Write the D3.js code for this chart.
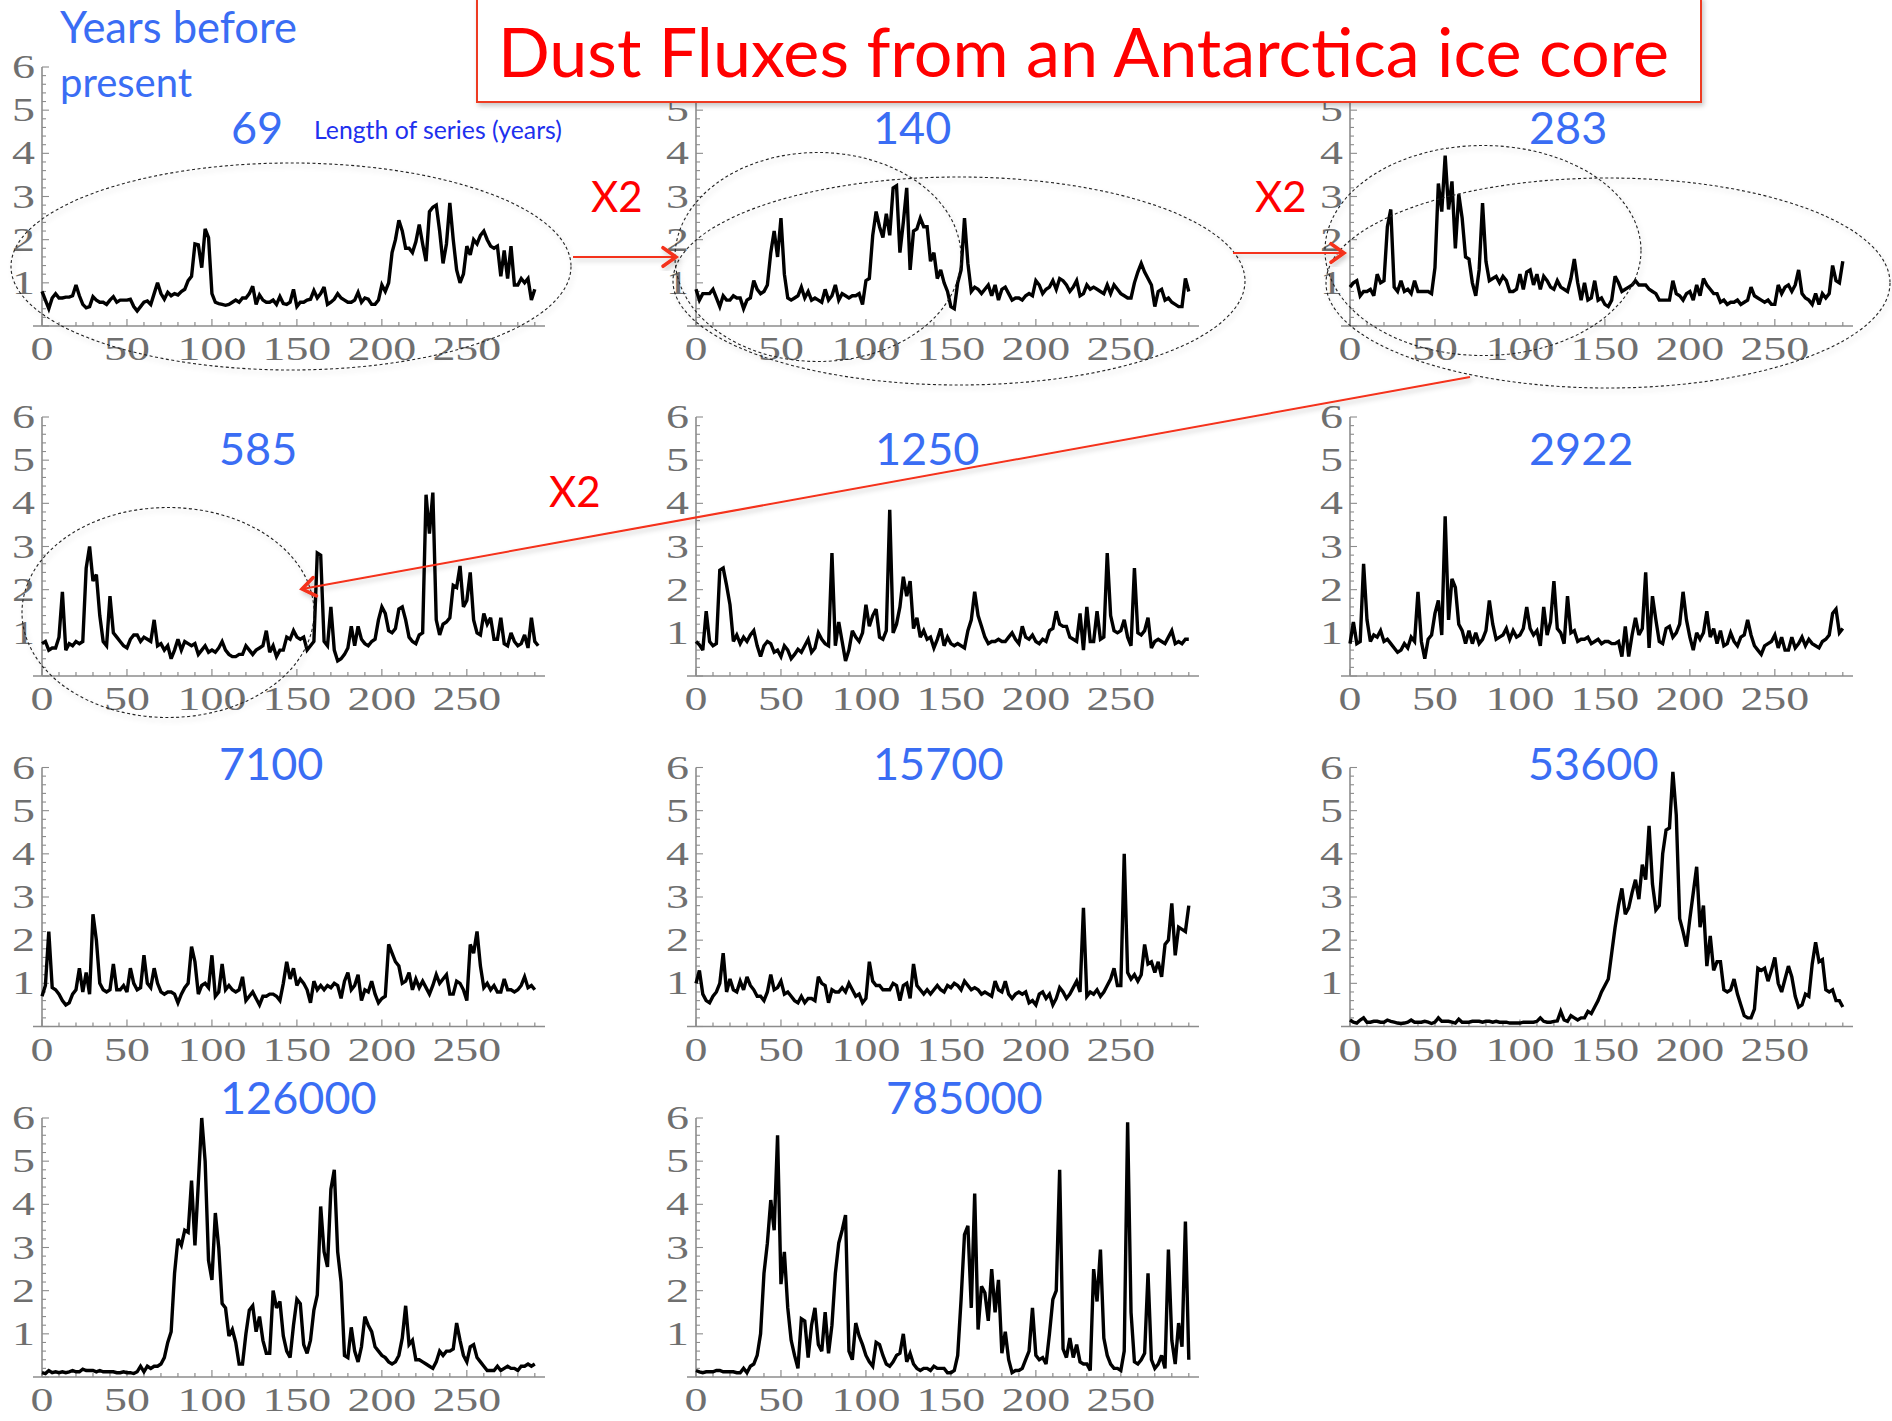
<!DOCTYPE html>
<html>
<head>
<meta charset="utf-8">
<script src="https://cdn.jsdelivr.net/npm/d3@7"></script>
<style>
  html, body { margin: 0; padding: 0; background: #ffffff; }
  svg { display: block; }
</style>
</head>
<body>
<svg id="chart" width="1892" height="1421"></svg>
<script>
// Dust flux series, one value every 2 years along each 290-year window.
const seriesLabels = ["69", "140", "283", "585", "1250", "2922", "7100", "15700", "53600", "126000", "785000"];
const yearStep = 2;

const flux69 = [0.8,0.6,0.4,0.65,0.75,0.65,0.65,0.67,0.67,0.7,0.95,0.7,0.5,0.42,0.45,0.68,0.6,0.55,0.55,0.5,0.6,0.68,0.55,0.6,0.6,0.6,0.62,0.45,0.35,0.45,0.55,0.58,0.5,0.75,1.0,0.75,0.62,0.78,0.7,0.75,0.72,0.8,0.85,1.05,1.15,1.9,1.88,1.35,2.25,2.05,0.75,0.55,0.52,0.5,0.48,0.5,0.55,0.6,0.55,0.65,0.65,0.75,0.92,0.5,0.72,0.6,0.55,0.55,0.6,0.5,0.68,0.52,0.5,0.55,0.85,0.45,0.55,0.55,0.6,0.62,0.82,0.65,0.75,0.9,0.5,0.55,0.62,0.75,0.65,0.6,0.55,0.55,0.6,0.78,0.55,0.65,0.62,0.5,0.5,0.6,0.95,0.8,1.0,1.7,2.0,2.45,2.2,1.8,1.8,1.7,1.95,2.35,1.9,1.5,2.65,2.75,2.8,2.2,1.45,1.9,2.85,2.0,1.3,1.0,1.2,1.85,1.65,2.0,1.9,2.1,2.2,2.0,1.85,1.8,1.85,1.15,1.75,1.1,1.85,0.95,0.95,1.1,1.0,1.1,0.6,0.85];

const flux140 = [0.85,0.6,0.75,0.75,0.75,0.85,0.65,0.45,0.7,0.6,0.6,0.7,0.65,0.65,0.4,0.6,0.65,1.05,0.85,0.75,0.8,0.95,1.7,2.2,1.6,2.5,1.2,0.65,0.6,0.65,0.7,0.9,0.65,0.8,0.6,0.65,0.6,0.55,0.85,0.6,0.7,0.95,0.6,0.75,0.7,0.65,0.7,0.7,0.75,0.5,1.05,1.1,2.1,2.65,2.3,2.05,2.6,2.1,3.2,3.25,1.7,2.4,3.2,1.3,2.2,2.25,2.5,2.3,2.3,1.5,1.7,1.1,1.3,1.0,0.8,0.45,0.4,1.0,1.3,2.5,1.45,0.8,0.9,0.85,0.75,0.85,0.95,0.7,0.95,0.6,0.85,0.9,0.75,0.6,0.65,0.65,0.6,0.7,0.75,0.7,1.05,0.95,0.75,0.85,0.9,1.05,0.85,1.1,1.05,0.95,0.8,0.9,1.05,0.7,0.75,0.95,0.85,0.9,0.85,0.8,0.75,0.95,0.75,0.95,0.85,0.75,0.7,0.65,0.65,1.0,1.25,1.45,1.25,1.1,0.95,0.45,0.8,0.85,0.6,0.65,0.55,0.5,0.45,0.45,1.1,0.8];

const flux283 = [0.9,1.0,1.05,0.7,0.8,0.8,0.85,0.7,1.2,1.0,1.05,2.3,2.7,0.9,0.8,1.05,0.8,0.85,0.75,1.05,0.8,0.8,0.8,0.8,0.75,1.35,3.3,2.65,3.95,2.7,3.35,1.8,3.05,2.5,1.6,1.55,1.0,0.7,1.3,2.85,1.5,1.05,1.1,1.15,1.0,1.15,1.05,0.8,0.8,0.85,1.2,0.85,1.25,1.3,0.95,1.2,0.85,1.15,1.05,0.9,0.85,1.05,0.9,0.85,0.8,1.1,1.55,1.0,0.6,1.0,0.6,0.65,1.05,0.6,0.65,0.5,0.45,0.6,1.15,1.0,0.8,0.85,0.9,0.95,1.05,0.95,0.95,0.95,0.85,0.8,0.75,0.6,0.6,0.6,0.6,1.05,0.75,0.7,0.6,0.75,0.8,0.6,0.95,0.7,1.1,0.95,0.85,0.75,0.75,0.55,0.6,0.5,0.55,0.55,0.6,0.5,0.55,0.6,0.9,0.7,0.65,0.6,0.55,0.6,0.5,0.5,0.95,0.75,0.9,0.95,0.8,0.95,1.3,0.75,0.65,0.6,0.5,0.75,0.5,0.75,0.65,0.75,1.4,1.05,1.0,1.5];

const flux585 = [0.75,0.8,0.6,0.65,0.65,0.9,1.95,0.6,0.75,0.7,0.8,0.75,0.8,2.5,3.0,2.2,2.35,1.4,0.8,0.7,1.85,1.0,0.9,0.8,0.7,0.65,0.85,0.95,0.95,0.8,0.9,0.85,0.8,1.3,0.7,0.75,0.6,0.7,0.4,0.6,0.85,0.6,0.8,0.75,0.7,0.75,0.5,0.6,0.7,0.55,0.6,0.55,0.65,0.8,0.6,0.5,0.45,0.45,0.5,0.5,0.7,0.6,0.5,0.6,0.65,0.7,1.05,0.55,0.7,0.45,0.6,0.6,0.9,0.85,1.05,0.9,0.85,0.9,0.6,0.7,0.8,2.85,2.8,0.8,0.7,1.6,0.6,0.35,0.4,0.5,0.65,1.15,0.7,1.15,0.85,0.75,0.7,0.8,0.85,1.3,1.6,1.45,1.05,1.0,1.1,1.55,1.6,1.3,0.9,0.8,0.75,0.95,1.0,4.2,3.3,4.25,1.3,0.95,1.2,1.25,1.35,2.1,2.05,2.55,1.6,1.75,2.4,1.3,1.0,0.95,1.45,1.2,1.35,0.85,0.85,1.35,0.75,0.7,1.0,0.8,0.7,0.75,0.95,0.65,1.35,0.8,0.7];

const flux1250 = [0.8,0.72,0.6,1.5,0.8,0.7,0.75,2.45,2.5,2.1,1.65,0.8,0.95,0.75,0.9,0.8,0.95,1.05,0.7,0.45,0.7,0.8,0.75,0.55,0.6,0.45,0.7,0.6,0.4,0.5,0.62,0.55,0.7,0.85,0.55,0.65,1.0,0.85,0.75,0.7,2.85,0.7,1.25,0.8,0.35,0.6,1.05,0.9,0.8,1.0,1.65,1.15,1.4,1.55,0.9,0.85,1.05,3.85,1.0,1.2,1.6,2.3,1.85,2.2,1.1,1.35,0.9,1.05,0.85,0.9,0.65,0.85,1.1,0.7,0.9,0.75,0.7,0.75,0.7,0.65,1.05,1.3,1.95,1.4,1.15,0.9,0.75,0.8,0.8,0.85,0.8,0.8,0.9,1.0,0.85,0.75,1.15,0.9,0.85,0.95,0.8,0.75,0.85,0.8,1.05,1.1,1.5,1.2,1.15,1.15,0.9,0.85,0.8,1.45,0.6,1.6,0.8,0.8,1.5,0.85,0.9,2.85,1.4,1.05,1.0,1.05,1.3,0.9,0.7,2.5,1.0,0.95,1.05,1.35,0.65,0.8,0.85,0.8,0.75,0.9,1.05,0.75,0.8,0.75,0.85,0.85];

const flux2922 = [0.75,1.25,0.75,0.8,2.6,1.3,0.8,0.95,0.9,1.05,0.8,0.85,0.75,0.65,0.55,0.6,0.75,0.65,0.9,0.8,1.95,0.8,0.4,0.85,0.95,1.45,1.75,0.95,3.7,1.3,2.25,2.05,1.2,1.05,0.75,1.05,0.75,1.0,0.75,0.85,1.05,1.75,1.2,0.85,0.9,0.95,1.1,0.85,1.05,0.9,0.95,1.1,1.6,1.1,0.95,1.05,0.7,1.6,0.95,1.25,2.2,1.1,1.0,0.75,1.85,1.0,1.05,0.8,0.85,0.85,0.9,0.75,0.8,0.85,0.75,0.8,0.8,0.75,0.75,0.8,0.45,1.15,0.45,0.95,1.35,0.95,1.1,2.4,0.65,1.85,1.3,0.8,0.75,1.1,1.15,0.9,1.0,1.2,1.95,1.3,0.9,0.6,1.0,0.85,1.0,1.5,0.9,1.1,0.75,1.05,0.7,0.75,1.0,0.8,0.7,0.9,0.95,1.3,0.95,0.7,0.6,0.5,0.7,0.75,0.8,0.95,0.65,0.9,0.6,0.6,0.9,0.65,0.75,0.9,0.7,0.85,0.75,0.7,0.65,0.8,0.85,0.95,1.45,1.55,1.0,1.1];

const flux7100 = [0.7,0.95,2.2,0.9,0.85,0.75,0.6,0.5,0.55,0.75,0.85,1.35,0.8,1.25,0.75,2.6,2.0,1.0,0.85,0.8,0.85,1.45,0.85,0.85,0.95,0.8,1.35,1.0,0.85,0.9,1.65,1.0,0.9,1.35,1.0,0.8,0.75,0.8,0.8,0.75,0.55,0.75,0.9,1.0,1.85,1.5,0.75,0.95,1.0,0.9,1.65,0.7,0.8,1.45,0.85,0.95,0.85,0.8,0.85,1.15,0.6,0.7,0.8,0.65,0.5,0.7,0.7,0.75,0.75,0.7,0.6,1.0,1.5,1.1,1.35,0.95,1.1,1.0,0.85,0.55,1.05,0.85,0.95,0.85,0.95,0.9,1.0,0.95,0.65,1.05,1.25,0.85,0.95,1.2,0.6,0.85,0.8,1.05,0.75,0.55,0.65,0.7,1.9,1.7,1.5,1.4,1.0,1.05,1.25,0.85,1.1,0.9,1.05,0.9,0.75,0.95,1.2,1.0,1.1,1.2,0.75,0.75,1.05,1.0,0.85,0.6,1.9,1.7,2.2,1.4,0.9,1.0,0.85,0.95,0.8,0.8,1.1,0.85,0.85,0.8,0.85,0.95,1.15,0.9,0.95,0.85];

const flux15700 = [1.0,1.3,0.75,0.6,0.55,0.7,0.8,1.0,1.7,0.8,1.1,0.85,0.8,1.05,0.85,1.15,0.95,0.85,0.7,0.7,0.6,0.8,1.2,0.85,0.9,1.05,0.75,0.8,0.7,0.6,0.55,0.7,0.55,0.65,0.65,0.6,1.15,1.0,0.95,0.55,0.85,0.8,0.8,0.9,0.8,1.0,0.85,0.7,0.75,0.55,0.65,1.5,1.05,0.95,0.95,0.85,0.85,0.85,1.0,0.95,0.6,0.95,1.0,0.65,1.45,0.95,0.85,0.75,0.85,0.75,0.85,0.95,0.85,0.8,0.95,0.9,1.0,0.95,0.85,1.05,0.95,0.85,0.9,0.85,0.75,0.8,0.75,0.7,1.05,0.85,0.8,1.05,0.75,0.65,0.75,0.8,0.75,0.8,0.55,0.6,0.5,0.75,0.8,0.65,0.75,0.5,0.65,0.9,0.8,0.65,0.75,0.9,1.05,0.8,2.75,0.7,0.8,0.75,0.85,0.7,0.8,0.95,1.1,1.35,0.95,0.95,4.0,1.25,1.1,1.2,1.05,1.2,1.9,1.45,1.5,1.25,1.5,1.15,1.9,2.0,2.85,1.65,2.3,2.25,2.2,2.8];

const flux53600 = [0.15,0.1,0.08,0.15,0.2,0.1,0.1,0.12,0.12,0.1,0.1,0.15,0.12,0.1,0.08,0.07,0.08,0.1,0.15,0.1,0.1,0.1,0.12,0.1,0.07,0.1,0.2,0.12,0.12,0.12,0.1,0.08,0.17,0.1,0.1,0.1,0.12,0.12,0.12,0.1,0.12,0.12,0.1,0.12,0.1,0.1,0.1,0.08,0.08,0.08,0.08,0.1,0.1,0.1,0.1,0.12,0.2,0.12,0.1,0.1,0.12,0.13,0.35,0.15,0.12,0.25,0.2,0.15,0.2,0.2,0.35,0.3,0.45,0.6,0.8,0.95,1.1,1.7,2.3,2.8,3.2,2.6,2.75,3.1,3.4,2.95,3.75,3.4,4.65,3.3,2.7,2.8,4.0,4.55,4.6,5.9,4.9,2.5,2.2,1.85,2.5,3.1,3.7,2.3,2.8,1.4,2.1,1.3,1.5,1.5,0.85,0.8,0.85,1.1,0.75,0.5,0.25,0.2,0.2,0.4,1.35,1.3,1.35,1.05,1.3,1.6,1.0,0.8,1.1,1.4,1.15,0.7,0.45,0.5,0.75,0.7,1.45,1.95,1.5,1.55,0.85,0.8,0.85,0.6,0.6,0.45];

const flux126000 = [0.1,0.08,0.15,0.1,0.12,0.1,0.12,0.1,0.12,0.15,0.12,0.12,0.18,0.15,0.15,0.15,0.12,0.15,0.12,0.12,0.12,0.12,0.1,0.1,0.12,0.1,0.1,0.08,0.12,0.25,0.12,0.25,0.2,0.25,0.25,0.3,0.45,0.8,1.05,2.4,3.2,3.05,3.4,3.35,4.55,3.05,4.5,6.0,5.0,2.7,2.25,3.8,3.0,1.7,1.6,0.95,1.1,0.8,0.3,0.3,1.0,1.55,1.65,1.05,1.4,0.85,0.55,0.55,2.0,1.6,1.75,0.95,0.6,0.45,1.2,1.8,1.7,0.75,0.55,0.85,1.55,1.9,3.95,2.9,2.55,4.35,4.8,2.9,2.2,0.5,0.45,1.15,0.6,0.35,0.7,1.4,1.2,1.05,0.7,0.6,0.5,0.45,0.35,0.3,0.35,0.5,0.9,1.65,0.75,0.85,0.4,0.4,0.35,0.3,0.25,0.2,0.35,0.6,0.5,0.6,0.6,0.65,1.25,0.85,0.5,0.35,0.7,0.75,0.45,0.35,0.25,0.15,0.15,0.15,0.25,0.15,0.2,0.25,0.2,0.2,0.15,0.25,0.25,0.3,0.25,0.3];

const flux785000 = [0.15,0.12,0.1,0.12,0.12,0.12,0.15,0.15,0.12,0.12,0.12,0.12,0.1,0.1,0.2,0.1,0.25,0.3,0.5,1.0,2.4,3.1,4.1,3.4,5.6,2.15,2.9,1.6,0.85,0.5,0.2,1.35,1.3,0.45,1.2,1.6,0.75,0.6,1.5,0.55,1.2,2.4,3.1,3.4,3.75,0.6,0.4,1.25,0.95,0.75,0.5,0.35,0.25,0.8,0.75,0.5,0.3,0.25,0.35,0.5,0.55,1.0,0.35,0.55,0.3,0.2,0.15,0.2,0.2,0.15,0.25,0.2,0.2,0.2,0.1,0.1,0.15,0.5,1.8,3.3,3.5,1.6,4.25,1.1,2.1,1.95,1.3,2.5,1.5,2.25,0.55,1.05,0.4,0.1,0.15,0.15,0.2,0.4,0.6,1.6,0.5,0.4,0.45,0.3,1.0,1.8,2.0,4.8,0.65,0.45,0.9,0.45,0.75,0.35,0.3,0.3,0.15,2.5,1.75,2.95,0.9,0.5,0.3,0.2,0.2,0.15,0.6,5.9,1.5,0.35,0.3,0.4,0.55,2.4,0.4,0.2,0.3,0.5,0.2,2.95,0.85,0.3,1.25,0.7,3.6,0.4];

const xTickValues = [0, 50, 100, 150, 200, 250];
const yTickValues = [1, 2, 3, 4, 5, 6];

const panelSeries = [flux69, flux140, flux283, flux585, flux1250, flux2922,
                     flux7100, flux15700, flux53600, flux126000, flux785000];

// ---- layout ----
const colX = [42, 696, 1350];          // y-axis position of each column
const rowY = [326, 676, 1026.5, 1377]; // x-axis position of each row
const plotW = 503, plotH = 259;
const labelX = [231, 873, 1529, 219, 875, 1529, 219, 873, 1528, 220, 886];
const labelBase = [144, 465, 780, 1114];
const titleBox = {x: 477, y: -3, w: 1224, h: 105};

const axisGrey = "#8c8c8c";
const tickGrey = "#6f6f6f";
const numBlue = "#3a6df4";
const red = "#ff0000";
const arrowRed = "#f4301a";

const svg = d3.select("#chart");

const defs = svg.append("defs");
const soft = defs.append("filter").attr("id", "soft")
  .attr("x", "-10%").attr("y", "-10%").attr("width", "120%").attr("height", "130%");
soft.append("feDropShadow").attr("dx", 2).attr("dy", 3).attr("stdDeviation", 2.5)
  .attr("flood-color", "#000").attr("flood-opacity", 0.22);

const panelsG = svg.append("g");

// labels that fall under the title box are not drawn
function underTitle(px, py) {
  return px > titleBox.x && px < titleBox.x + titleBox.w && py < titleBox.y + titleBox.h - 20;
}

panelSeries.forEach((vals, k) => {
  const col = k % 3, row = Math.floor(k / 3);
  const x0 = colX[col], y0 = rowY[row];
  const x = d3.scaleLinear().domain([0, 296]).range([x0, x0 + plotW]);
  const y = d3.scaleLinear().domain([0, 6]).range([y0, y0 - plotH]);
  const g = panelsG.append("g");

  // x axis: line, minor and major ticks pointing into the plot
  g.append("line").attr("x1", x0 - 9).attr("x2", x0 + plotW)
    .attr("y1", y0).attr("y2", y0).attr("stroke", axisGrey).attr("stroke-width", 1.6);
  const xMinor = d3.range(0, 291, 10);
  g.selectAll(null).data(xMinor).join("line")
    .attr("x1", d => x(d)).attr("x2", d => x(d))
    .attr("y1", y0).attr("y2", d => y0 - (d % 50 === 0 ? 7 : 4))
    .attr("stroke", axisGrey).attr("stroke-width", 1.2);

  // y axis
  g.append("line").attr("x1", x0).attr("x2", x0)
    .attr("y1", y0).attr("y2", y(6)).attr("stroke", axisGrey).attr("stroke-width", 1.6);
  const yMinor = d3.range(0, 30.5, 1).map(v => v / 5);
  g.selectAll(null).data(yMinor).join("line")
    .attr("x1", x0).attr("x2", d => x0 + (Math.abs(d - Math.round(d)) < 1e-6 ? 7 : 4))
    .attr("y1", d => y(d)).attr("y2", d => y(d))
    .attr("stroke", axisGrey).attr("stroke-width", 1.1);

  // tick labels (serif, stretched horizontally)
  g.selectAll(null).data(xTickValues).join("text")
    .attr("transform", d => `translate(${x(d)},${y0 + 34}) scale(1.35,1)`)
    .attr("text-anchor", "middle")
    .attr("font-family", "'Liberation Serif', 'DejaVu Serif', serif")
    .attr("font-size", 34).attr("fill", tickGrey)
    .text(d => d);
  g.selectAll(null).data(yTickValues.filter(d => !underTitle(x0 - 10, y(d))))
    .join("text")
    .attr("transform", d => `translate(${x0 - 7},${y(d) + 11}) scale(1.35,1)`)
    .attr("text-anchor", "end")
    .attr("font-family", "'Liberation Serif', 'DejaVu Serif', serif")
    .attr("font-size", 34).attr("fill", tickGrey)
    .text(d => d);

  // series line
  const line = d3.line()
    .x((d, i) => x(i * yearStep))
    .y(d => y(d));
  g.append("path").datum(vals)
    .attr("d", line)
    .attr("fill", "none").attr("stroke", "#000").attr("stroke-width", 3.4)
    .attr("stroke-linejoin", "miter").attr("stroke-miterlimit", 3);

  // series length label
  g.append("text")
    .attr("x", labelX[k]).attr("y", labelBase[row])
    .attr("font-family", "Lato, 'Open Sans', sans-serif")
    .attr("font-size", 45).attr("fill", numBlue)
    .text(seriesLabels[k]);
});

// ---- annotations ----
const ann = svg.append("g");

// dashed ellipses
const ellipses = [
  {cx: 291, cy: 266.5, rx: 280, ry: 103.5},
  {cx: 818, cy: 257, rx: 143, ry: 104.5},
  {cx: 959, cy: 281, rx: 286, ry: 104},
  {cx: 1483, cy: 250.5, rx: 158, ry: 105},
  {cx: 1608, cy: 283, rx: 282, ry: 105},
  {cx: 168, cy: 612.5, rx: 146, ry: 105}
];
ann.selectAll(null).data(ellipses).join("ellipse")
  .attr("cx", d => d.cx).attr("cy", d => d.cy).attr("rx", d => d.rx).attr("ry", d => d.ry)
  .attr("fill", "none").attr("stroke", "#222").attr("stroke-width", 1.1)
  .attr("stroke-dasharray", "3,2.5").attr("filter", "url(#soft)");

// arrows
const arrows = [
  {x1: 573, y1: 257, x2: 676, y2: 257},
  {x1: 1233, y1: 253, x2: 1344, y2: 253},
  {x1: 1470, y1: 377, x2: 302, y2: 589}
];
arrows.forEach(a => {
  const ag = ann.append("g").attr("filter", "url(#soft)");
  ag.append("line").attr("x1", a.x1).attr("y1", a.y1).attr("x2", a.x2).attr("y2", a.y2)
    .attr("stroke", arrowRed).attr("stroke-width", 2);
  const ang = Math.atan2(a.y2 - a.y1, a.x2 - a.x1);
  const len = 16, spread = 0.62;
  const p1 = [a.x2 - len * Math.cos(ang - spread), a.y2 - len * Math.sin(ang - spread)];
  const p2 = [a.x2 - len * Math.cos(ang + spread), a.y2 - len * Math.sin(ang + spread)];
  ag.append("path")
    .attr("d", `M${p1[0]},${p1[1]} L${a.x2},${a.y2} L${p2[0]},${p2[1]}`)
    .attr("fill", "none").attr("stroke", arrowRed).attr("stroke-width", 3.5)
    .attr("stroke-linecap", "round").attr("stroke-linejoin", "miter");
});

// "X2" labels
const x2Labels = [{x: 591, y: 212}, {x: 1255, y: 212}, {x: 549, y: 507}];
ann.selectAll(null).data(x2Labels).join("text")
  .attr("x", d => d.x).attr("y", d => d.y)
  .attr("font-family", "Lato, 'Open Sans', sans-serif")
  .attr("font-size", 42).attr("fill", red)
  .text("X2");

// title box
svg.append("rect").attr("x", titleBox.x).attr("y", titleBox.y)
  .attr("width", titleBox.w).attr("height", titleBox.h)
  .attr("fill", "#fff").attr("stroke", "#ee3a22").attr("stroke-width", 2)
  .attr("filter", "url(#soft)");
const title = svg.append("text").attr("x", 498).attr("y", 77)
  .attr("font-family", "Lato, 'Open Sans', sans-serif")
  .attr("font-size", 64).attr("fill", red)
  .text("Dust Fluxes from an Antarctica ice core");

// left header texts
const hdr1 = svg.append("text").attr("x", 60).attr("y", 43)
  .attr("font-family", "Lato, 'Open Sans', sans-serif")
  .attr("font-size", 40).attr("fill", numBlue).text("Years before");
svg.append("text").attr("x", 60).attr("y", 97)
  .attr("font-family", "Lato, 'Open Sans', sans-serif")
  .attr("font-size", 40).attr("fill", numBlue).text("present");
const lenLbl = svg.append("text").attr("x", 314).attr("y", 139)
  .attr("font-family", "Lato, 'Open Sans', sans-serif")
  .attr("font-size", 21).attr("fill", "#2030ee").text("Length of series (years)");

// size texts to their measured widths
function fitWidth(sel, target) {
  const w = sel.node().getComputedTextLength();
  const fs = +sel.attr("font-size");
  sel.attr("font-size", (fs * target / w).toFixed(2));
}
fitWidth(title, 1171);
fitWidth(hdr1, 237);
fitWidth(lenLbl, 248);
</script>
</body>
</html>
